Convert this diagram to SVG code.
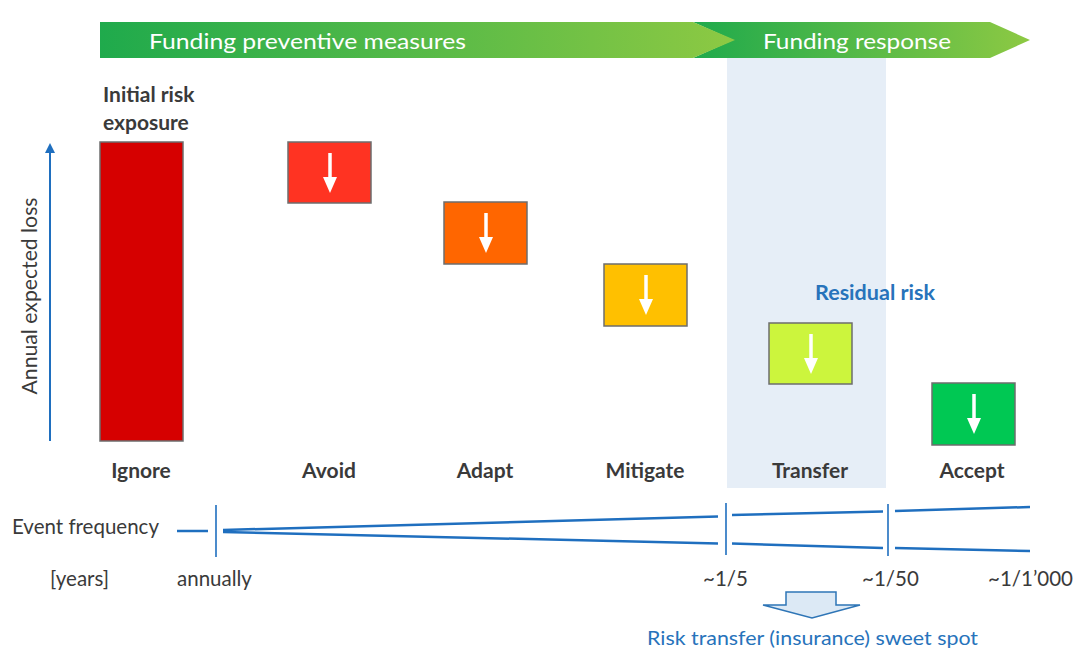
<svg xmlns="http://www.w3.org/2000/svg" width="1077" height="655" viewBox="0 0 1077 655">
  <defs>
    <linearGradient id="bannerA" x1="0" y1="0" x2="1" y2="0">
      <stop offset="0" stop-color="#1faa4c"/>
      <stop offset="1" stop-color="#8dc943"/>
    </linearGradient>
    <linearGradient id="bannerB" x1="0" y1="0" x2="1" y2="0">
      <stop offset="0" stop-color="#1faa4c"/>
      <stop offset="1" stop-color="#8dc943"/>
    </linearGradient>
    <marker id="axisHead" viewBox="0 0 10 10" refX="5" refY="5" markerWidth="5" markerHeight="5" orient="auto">
      <path d="M0,0 L10,5 L0,10 Z" fill="#1f6fbf"/>
    </marker>
    <g id="downArrow">
      <line x1="0" y1="-20" x2="0" y2="6" stroke="#fff" stroke-width="3.5"/>
      <path d="M-7,4 L7,4 L0,20 Z" fill="#fff"/>
    </g>
  </defs>
  <style>
    text { font-family: Lato, "Open Sans", "Liberation Sans", sans-serif; }
    .banner { fill: #fff; font-size: 21px; }
    .lbl { fill: #3a3a3a; font-size: 21px; font-weight: bold; text-anchor: middle; }
    .axis { fill: #3a3a3a; font-size: 20.5px; }
    .blue { fill: #2773bb; }
    .box { stroke: #6d6d6d; stroke-width: 1.5; }
    .freq { stroke: #1f6fbf; stroke-width: 2.5; fill: none; }
    .tick { stroke: #1f6fbf; stroke-width: 1.6; }
  </style>

  <rect width="1077" height="655" fill="#fff"/>

  <!-- shaded band behind the transfer step -->
  <rect id="transfer-band" x="727" y="58" width="159" height="430" fill="#e6eef7"/>

  <!-- funding banner -->
  <g id="banner">
    <path d="M693,22 L990,22 L1030,40 L990,58 L693,58 L733,40 Z" fill="url(#bannerB)"/>
    <path d="M100,22 L693,22 L735,40 L693,58 L100,58 Z" fill="url(#bannerA)"/>
    <text class="banner" x="149" y="49" textLength="317" lengthAdjust="spacingAndGlyphs">Funding preventive measures</text>
    <text class="banner" x="763" y="49" textLength="188" lengthAdjust="spacingAndGlyphs">Funding response</text>
  </g>

  <!-- vertical axis -->
  <g id="y-axis">
    <line x1="50" y1="441" x2="50" y2="148" stroke="#1f6fbf" stroke-width="2" marker-end="url(#axisHead)"/>
    <text class="axis" transform="translate(37,296) rotate(-90)" text-anchor="middle" textLength="197" lengthAdjust="spacingAndGlyphs">Annual expected loss</text>
  </g>

  <g id="ignore">
    <text class="lbl" x="103" y="102" style="text-anchor:start">Initial risk</text>
    <text class="lbl" x="103" y="130" style="text-anchor:start">exposure</text>
    <rect class="box" x="100" y="142" width="83" height="299" fill="#d60000"/>
    <text class="lbl" x="141" y="478">Ignore</text>
  </g>

  <g id="avoid">
    <rect class="box" x="288" y="142" width="83" height="61" fill="#ff3322"/>
    <use href="#downArrow" x="330" y="173"/>
    <text class="lbl" x="329" y="478">Avoid</text>
  </g>

  <g id="adapt">
    <rect class="box" x="444" y="202" width="83" height="62" fill="#ff6600"/>
    <use href="#downArrow" x="486" y="233"/>
    <text class="lbl" x="485" y="478">Adapt</text>
  </g>

  <g id="mitigate">
    <rect class="box" x="604" y="264" width="83" height="62" fill="#ffc000"/>
    <use href="#downArrow" x="646" y="295"/>
    <text class="lbl" x="645" y="478">Mitigate</text>
  </g>

  <g id="transfer">
    <rect class="box" x="769" y="323" width="83" height="61" fill="#ccf53d"/>
    <use href="#downArrow" x="811" y="354"/>
    <text class="lbl" x="810" y="478">Transfer</text>
    <text class="blue" x="815" y="300" font-size="20" font-weight="bold" textLength="120" lengthAdjust="spacingAndGlyphs">Residual risk</text>
  </g>

  <g id="accept">
    <rect class="box" x="932" y="383" width="83" height="62" fill="#00c853"/>
    <use href="#downArrow" x="974" y="414"/>
    <text class="lbl" x="972" y="478">Accept</text>
  </g>

  <!-- event frequency scale -->
  <g id="connectors">
    <line class="freq" x1="177" y1="531" x2="208" y2="531"/>
    <line class="tick" x1="216" y1="505" x2="216" y2="557"/>
    <line class="freq" x1="223" y1="530" x2="718" y2="516.5"/>
    <line class="freq" x1="223" y1="532" x2="718" y2="543.5"/>
    <line class="tick" x1="726" y1="503" x2="726" y2="555"/>
    <line class="freq" x1="732" y1="515" x2="883" y2="511.5"/>
    <line class="freq" x1="732" y1="543.5" x2="883" y2="548"/>
    <line class="tick" x1="888" y1="504" x2="888" y2="556"/>
    <line class="freq" x1="895" y1="511" x2="1030" y2="507"/>
    <line class="freq" x1="895" y1="548" x2="1030" y2="551"/>
  </g>

  <g id="frequency-labels">
    <text class="axis" x="12" y="534">Event frequency</text>
    <text class="axis" x="50" y="586">[years]</text>
    <text class="axis" x="177" y="586">annually</text>
    <text class="axis" x="703" y="586">~1/5</text>
    <text class="axis" x="862" y="586">~1/50</text>
    <text class="axis" x="988" y="586">~1/1’000</text>
  </g>

  <g id="sweet-spot">
    <path d="M786,592 L836,592 L836,605 L860,605 L812,618 L763,605 L786,605 Z" fill="#dce9f5" stroke="#2e75b6" stroke-width="1.5" stroke-linejoin="miter"/>
    <text class="blue" x="647" y="645" font-size="19" textLength="331" lengthAdjust="spacingAndGlyphs">Risk transfer (insurance) sweet spot</text>
  </g>
</svg>
